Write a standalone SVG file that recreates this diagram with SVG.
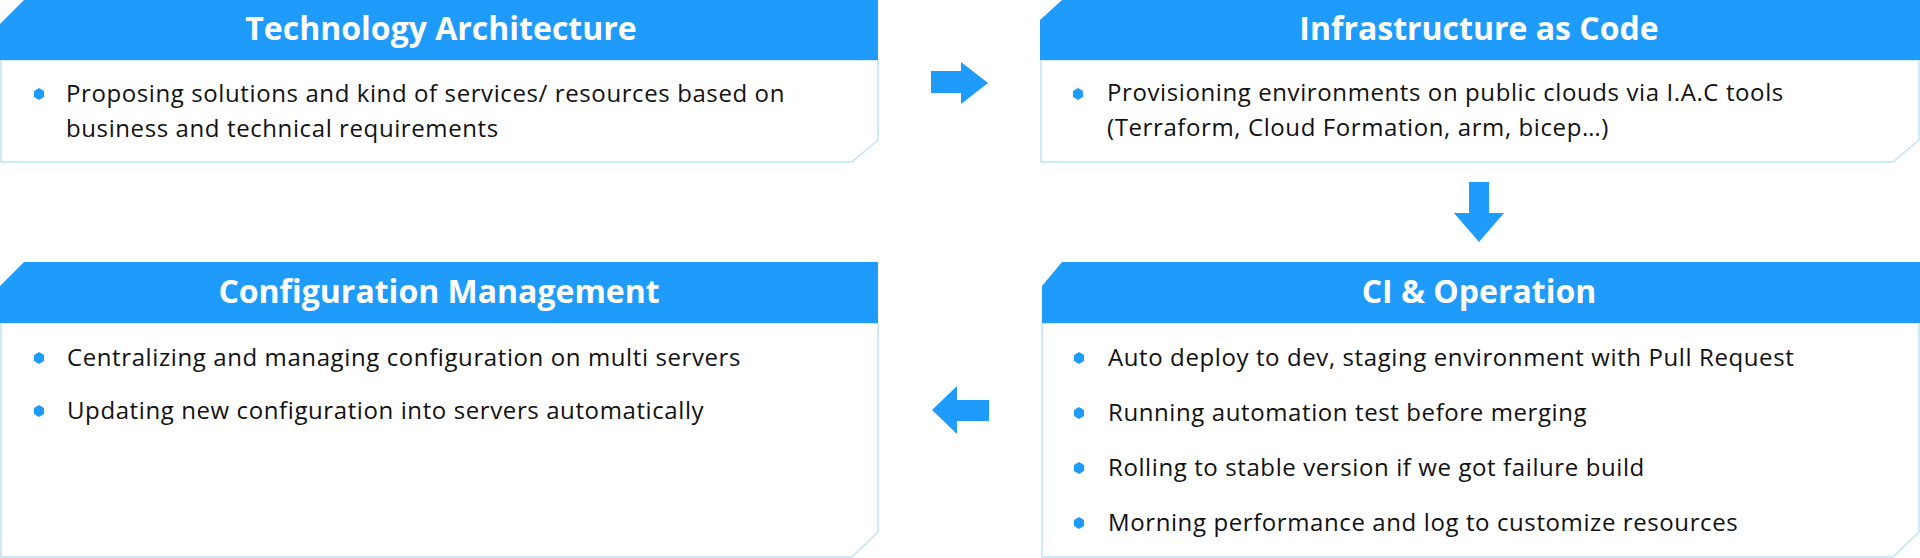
<svg xmlns="http://www.w3.org/2000/svg" width="1920" height="558" viewBox="0 0 1920 558">
<style>
.hd{fill:#1e9bfb}
.bd{fill:#fff;stroke:#bfe3f3;stroke-width:1.5}
.t{font-family:"Open Sans","Liberation Sans",sans-serif;font-weight:700;font-size:32px;fill:#fff;text-anchor:middle}
.b{font-family:"Open Sans","Liberation Sans",sans-serif;font-size:24px;letter-spacing:0.6px;fill:#111}
.dot{fill:#1e9bfb}
.ar{fill:#1e9bfb}
</style>
<defs>
<polygon id="hex" points="0,-6 5,-3 5,3 0,6 -5,3 -5,-3"/>
</defs>
<rect width="1920" height="558" fill="#fff"/>
<g id="n1">
<polygon class="bd" points="1,60 878,60 878,140 852,162 1,162"/>
<polygon class="hd" points="24,0 878,0 878,60 0,60 0,24"/>
<text class="t" x="441" y="40">Technology Architecture</text>
<use href="#hex" class="dot" x="39" y="94"/>
<text class="b" x="66" y="102">Proposing solutions and kind of services/ resources based on</text>
<text class="b" x="66" y="137">business and technical requirements</text>
</g>
<g id="n2">
<polygon class="bd" points="1041,60 1919,60 1919,140 1893,162 1041,162"/>
<polygon class="hd" points="1062,0 1920,0 1920,60 1040,60 1040,20"/>
<text class="t" x="1479" y="40">Infrastructure as Code</text>
<use href="#hex" class="dot" x="1078" y="94"/>
<text class="b" x="1107" y="101">Provisioning environments on public clouds via I.A.C tools</text>
<text class="b" x="1107" y="136">(Terraform, Cloud Formation, arm, bicep…)</text>
</g>
<g id="n3">
<polygon class="bd" points="1,323 878,323 878,532 852,557 1,557"/>
<polygon class="hd" points="24,262 878,262 878,323 0,323 0,286"/>
<text class="t" x="439" y="303">Configuration Management</text>
<use href="#hex" class="dot" x="39" y="358"/>
<text class="b" x="67" y="366">Centralizing and managing configuration on multi servers</text>
<use href="#hex" class="dot" x="39" y="411"/>
<text class="b" x="67" y="419">Updating new configuration into servers automatically</text>
</g>
<g id="n4">
<polygon class="bd" points="1042,323 1919,323 1919,532 1893,557 1042,557"/>
<polygon class="hd" points="1062,262 1920,262 1920,323 1042,323 1042,286"/>
<text class="t" x="1479" y="303">CI &amp; Operation</text>
<use href="#hex" class="dot" x="1079" y="358"/>
<text class="b" x="1108" y="366">Auto deploy to dev, staging environment with Pull Request</text>
<use href="#hex" class="dot" x="1079" y="413"/>
<text class="b" x="1108" y="421">Running automation test before merging</text>
<use href="#hex" class="dot" x="1079" y="468"/>
<text class="b" x="1108" y="476">Rolling to stable version if we got failure build</text>
<use href="#hex" class="dot" x="1079" y="523"/>
<text class="b" x="1108" y="531">Morning performance and log to customize resources</text>
</g>
<g id="connectors">
<polygon class="ar" points="931,71 961,71 961,62 988,83 961,104 961,93 931,93"/>
<polygon class="ar" points="1469,182 1489,182 1489,213 1504,213 1479,242 1454,213 1469,213"/>
<polygon class="ar" points="989,400 957,400 957,386 932,410 957,434 957,421 989,421"/>
</g>
</svg>
